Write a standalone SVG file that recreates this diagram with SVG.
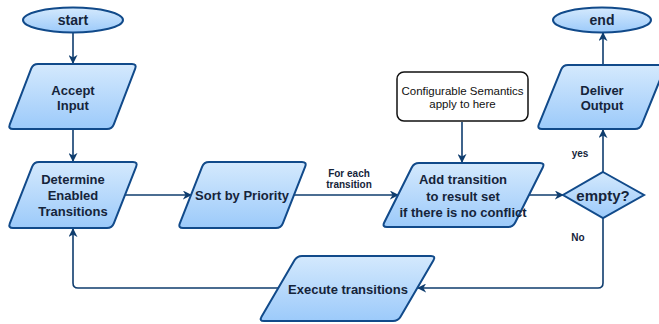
<svg xmlns="http://www.w3.org/2000/svg" width="659" height="324" viewBox="0 0 659 324">
  <defs>
    <linearGradient id="blueFill" x1="0" y1="0" x2="0" y2="1">
      <stop offset="0" stop-color="#d4e9fd"/>
      <stop offset="1" stop-color="#9ccafa"/>
    </linearGradient>
    <marker id="arrow" viewBox="0 0 10 10" refX="9" refY="5" markerWidth="9" markerHeight="9" orient="auto" markerUnits="userSpaceOnUse">
      <path d="M0,0 L10,5 L0,10 L3,5 Z" fill="#0f3d6e"/>
    </marker>
    <style>
      .shape { fill: url(#blueFill); stroke: #114a8a; stroke-width: 2; }
      .note { fill: #ffffff; stroke: #111111; stroke-width: 1.5; }
      .edge { fill: none; stroke: #0f3d6e; stroke-width: 1.6; marker-end: url(#arrow); }
      .lbl { font-family: "Liberation Sans", Arial, sans-serif; font-weight: bold; font-size: 13px; fill: #15243a; text-anchor: middle; }
      .big { font-size: 14px; }
      .dec { font-size: 15px; }
      .small { font-size: 10px; }
      .plain { font-family: "Liberation Sans", Arial, sans-serif; font-size: 11.5px; fill: #111111; text-anchor: middle; }
    </style>
  </defs>

  <!-- connectors -->
  <g id="connectors">
    <path class="edge" d="M73,33 V63"/>
    <path class="edge" d="M73,130 V161"/>
    <path class="edge" d="M125,195 H191"/>
    <path class="edge" d="M294,195 H398"/>
    <path class="edge" d="M462,122 V162"/>
    <path class="edge" d="M529,195 H563"/>
    <path class="edge" d="M603,172 V130"/>
    <path class="edge" d="M603,65 V33"/>
    <path class="edge" d="M603,218 V283 Q603,288 598,288 H418"/>
    <path class="edge" d="M278,288 H78 Q73,288 73,283 V229"/>
    <text class="lbl small" x="349" y="177">For each</text>
    <text class="lbl small" x="349" y="188">transition</text>
    <text class="lbl small" x="580" y="157">yes</text>
    <text class="lbl small" x="578" y="241">No</text>
  </g>

  <g id="start">
    <ellipse class="shape" cx="73" cy="20" rx="50" ry="12.5"/>
    <text class="lbl big" x="73" y="25">start</text>
  </g>

  <g id="accept-input">
    <path class="shape" d="M38,64 H132 Q137,64 135.2,68.67 L113.8,124.33 Q112,129 107,129 H13 Q8,129 9.8,124.33 L31.2,68.67 Q33,64 38,64 Z"/>
    <text class="lbl" x="73" y="95">Accept</text>
    <text class="lbl" x="73" y="110">Input</text>
  </g>

  <g id="determine-enabled">
    <path class="shape" d="M39,162 H133 Q138,162 136.17,166.65 L113.83,223.35 Q112,228 107,228 H13 Q8,228 9.83,223.35 L32.17,166.65 Q34,162 39,162 Z"/>
    <text class="lbl" x="73" y="184">Determine</text>
    <text class="lbl" x="73" y="200">Enabled</text>
    <text class="lbl" x="73" y="216">Transitions</text>
  </g>

  <g id="sort-priority">
    <path class="shape" d="M209,162 H302 Q307,162 305.17,166.65 L282.83,223.35 Q281,228 276,228 H183 Q178,228 179.83,223.35 L202.17,166.65 Q204,162 209,162 Z"/>
    <text class="lbl" x="242" y="200">Sort by Priority</text>
  </g>

  <g id="semantics-note">
    <rect class="note" x="397" y="72" width="131" height="49" rx="7"/>
    <text class="plain" x="462.5" y="95">Configurable Semantics</text>
    <text class="plain" x="462.5" y="108">apply to here</text>
  </g>

  <g id="add-transition">
    <path class="shape" d="M419,163 H540 Q545,163 542.76,167.47 L515.24,222.53 Q513,227 508,227 H387 Q382,227 384.24,222.53 L411.76,167.47 Q414,163 419,163 Z"/>
    <text class="lbl" x="463" y="184">Add transition</text>
    <text class="lbl" x="463" y="201">to result set</text>
    <text class="lbl" x="463" y="217">if there is no conflict</text>
  </g>

  <g id="empty-check">
    <path class="shape" d="M603,172 L644,195 L603,218 L563,195 Z"/>
    <text class="lbl dec" x="603" y="201">empty?</text>
  </g>

  <g id="deliver-output">
    <path class="shape" d="M568,65 H661 Q666,65 664.13,69.63 L641.87,124.37 Q640,129 635,129 H542 Q537,129 538.87,124.37 L561.13,69.63 Q563,65 568,65 Z"/>
    <text class="lbl" x="602" y="95">Deliver</text>
    <text class="lbl" x="602" y="110">Output</text>
  </g>

  <g id="end">
    <ellipse class="shape" cx="602" cy="20" rx="49" ry="12.5"/>
    <text class="lbl big" x="602" y="25">end</text>
  </g>

  <g id="execute-transitions">
    <path class="shape" d="M302,256 H431 Q436,256 433.48,260.32 L400.52,316.68 Q398,321 393,321 H264 Q259,321 261.52,316.68 L294.48,260.32 Q297,256 302,256 Z"/>
    <text class="lbl" x="348" y="294">Execute transitions</text>
  </g>
</svg>
